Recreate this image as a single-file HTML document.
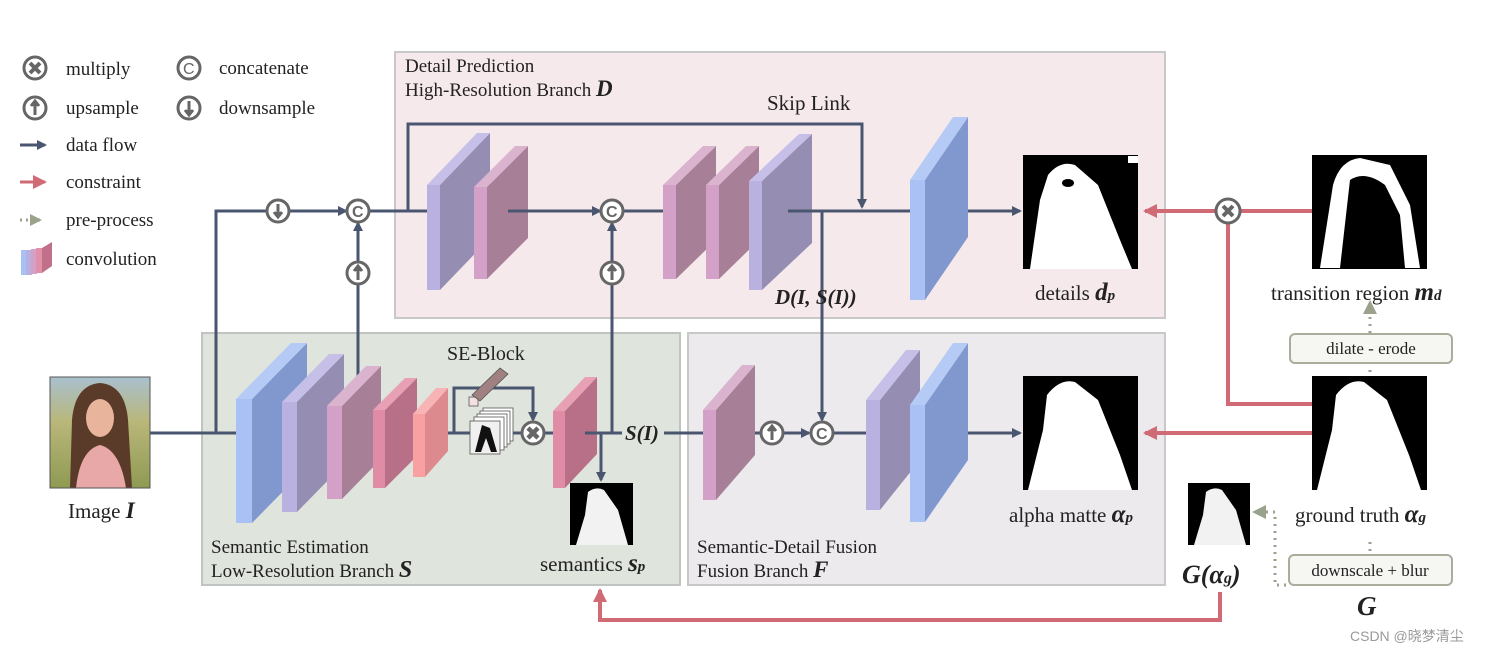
<!DOCTYPE html>
<html><head><meta charset="utf-8"><style>
html,body{margin:0;padding:0;background:#fff;}
svg{display:block;font-family:"Liberation Serif",serif;}
.t{fill:#222;}
.bi{font-weight:bold;font-style:italic;}
</style></head><body>
<svg width="1503" height="654" viewBox="0 0 1503 654" xmlns="http://www.w3.org/2000/svg">
<defs>
<marker id="ab" markerWidth="10" markerHeight="10" refX="8" refY="5" orient="auto" markerUnits="userSpaceOnUse"><path d="M0,0 L10,5 L0,10 z" fill="#4a5670"/></marker>
<marker id="ar" markerWidth="14" markerHeight="14" refX="12" refY="7" orient="auto" markerUnits="userSpaceOnUse"><path d="M0,0 L14,7 L0,14 z" fill="#d06a75"/></marker>
<marker id="ag" markerWidth="12" markerHeight="12" refX="10" refY="6" orient="auto" markerUnits="userSpaceOnUse"><path d="M0,0 L12,6 L0,12 z" fill="#9aa28c"/></marker>
<linearGradient id="bg1" x1="0" y1="0" x2="0" y2="1"><stop offset="0" stop-color="#a9c0cf"/><stop offset="0.4" stop-color="#b9b77a"/><stop offset="1" stop-color="#8f9a52"/></linearGradient>
</defs>

<rect x="395" y="52" width="770" height="266" fill="#f6e9eb" stroke="#c8c8c8" stroke-width="2"/>
<rect x="202" y="333" width="478" height="252" fill="#dfe4dd" stroke="#c0c4c0" stroke-width="2"/>
<rect x="688" y="333" width="477" height="252" fill="#edeaee" stroke="#c8c8c8" stroke-width="2"/>

<g stroke="#666" stroke-width="3" fill="#fff">
<circle cx="35" cy="68" r="11"/><circle cx="35" cy="108" r="11"/>
<circle cx="189" cy="68" r="11"/><circle cx="189" cy="108" r="11"/>
</g>
<path d="M30,63 L40,73 M40,63 L30,73" stroke="#666" stroke-width="4"/>
<path d="M35,115 L35,104 M31,106 L35,101 L39,106" stroke="#666" stroke-width="3" fill="#666"/>
<path d="M189,101 L189,112 M185,110 L189,115 L193,110" stroke="#666" stroke-width="3" fill="#666"/>
<text x="183" y="74" style="font-size:16px" fill="#666" font-family="Liberation Sans,sans-serif">C</text>
<line x1="20" y1="145" x2="45" y2="145" stroke="#4a5670" stroke-width="3" marker-end="url(#ab)"/>
<line x1="20" y1="182" x2="45" y2="182" stroke="#d06a75" stroke-width="3" marker-end="url(#ar)"/>
<line x1="20" y1="220" x2="40" y2="220" stroke="#9aa28c" stroke-width="3" stroke-dasharray="2,4" marker-end="url(#ag)"/>
<g><rect x="21" y="250" width="6" height="25" fill="#a8c0f4"/><rect x="26" y="250" width="6" height="25" fill="#b8b0de"/><rect x="31" y="249" width="6" height="25" fill="#d4a0c8"/><rect x="36" y="248" width="6" height="25" fill="#e090a8"/><polygon points="42,248 52,242 52,266 42,273" fill="#c07088"/></g>
<g class="t" style="font-size:19px">
<text x="66" y="75">multiply</text>
<text x="66" y="114">upsample</text>
<text x="66" y="151">data flow</text>
<text x="66" y="188">constraint</text>
<text x="66" y="226">pre-process</text>
<text x="66" y="265">convolution</text>
<text x="219" y="74">concatenate</text>
<text x="219" y="114">downsample</text>
</g>

<g stroke="#4a5670" stroke-width="3" fill="none">
<line x1="150" y1="433" x2="236" y2="433"/>
<polyline points="216,433 216,211 346,211" marker-end="url(#ab)"/>
<line x1="370" y1="211" x2="430" y2="211"/>
<polyline points="408,211 408,124 862,124 862,207" marker-end="url(#ab)"/>
<line x1="510" y1="211" x2="600" y2="211" marker-end="url(#ab)"/>
<line x1="624" y1="211" x2="663" y2="211"/>
<line x1="788" y1="211" x2="912" y2="211"/>
<line x1="955" y1="211" x2="1020" y2="211" marker-end="url(#ab)"/>
<line x1="822" y1="211" x2="822" y2="420" marker-end="url(#ab)"/>
<line x1="358" y1="380" x2="358" y2="223" marker-end="url(#ab)"/>
<line x1="612" y1="433" x2="612" y2="223" marker-end="url(#ab)"/>
<line x1="436" y1="433" x2="521" y2="433"/>
<polyline points="454,433 454,388 533,388 533,420" marker-end="url(#ab)"/>
<line x1="545" y1="433" x2="555" y2="433"/>
<line x1="585" y1="433" x2="622" y2="433"/>
<line x1="601" y1="433" x2="601" y2="480" marker-end="url(#ab)"/>
<line x1="664" y1="433" x2="705" y2="433"/>
<line x1="735" y1="433" x2="761" y2="433"/>
<line x1="784" y1="433" x2="809" y2="433" marker-end="url(#ab)"/>
<line x1="834" y1="433" x2="868" y2="433"/>
<line x1="955" y1="433" x2="1020" y2="433" marker-end="url(#ab)"/>
</g>

<g>
<polygon points="440,185 490,133 490,238 440,290" fill="#958db2"/><rect x="427" y="185" width="13" height="105" fill="#b9b1df"/><polygon points="427,185 440,185 490,133 477,133" fill="#c6bfe8"/>
<polygon points="487,187 528,146 528,238 487,279" fill="#a78098"/><rect x="474" y="187" width="13" height="92" fill="#d3a1c7"/><polygon points="474,187 487,187 528,146 515,146" fill="#dab3cf"/>
<polygon points="676,185 716,146 716,240 676,279" fill="#a78098"/><rect x="663" y="185" width="13" height="94" fill="#d3a1c7"/><polygon points="663,185 676,185 716,146 703,146" fill="#dab3cf"/>
<polygon points="719,185 759,146 759,240 719,279" fill="#a78098"/><rect x="706" y="185" width="13" height="94" fill="#d3a1c7"/><polygon points="706,185 719,185 759,146 746,146" fill="#dab3cf"/>
<polygon points="762,181 812,134 812,243 762,290" fill="#958db2"/><rect x="749" y="181" width="13" height="109" fill="#b9b1df"/><polygon points="749,181 762,181 812,134 799,134" fill="#c6bfe8"/>
<polygon points="925,180 968,117 968,237 925,300" fill="#8198cf"/><rect x="910" y="180" width="15" height="120" fill="#a9c1f5"/><polygon points="910,180 925,180 968,117 953,117" fill="#b5caf5"/>
<polygon points="252,399 307,343 307,467 252,523" fill="#8198cf"/><rect x="236" y="399" width="16" height="124" fill="#a9c1f5"/><polygon points="236,399 252,399 307,343 291,343" fill="#b5caf5"/>
<polygon points="297,402 344,354 344,464 297,512" fill="#958db2"/><rect x="282" y="402" width="15" height="110" fill="#b9b1df"/><polygon points="282,402 297,402 344,354 329,354" fill="#c6bfe8"/>
<polygon points="342,406 381,366 381,459 342,499" fill="#a78098"/><rect x="327" y="406" width="15" height="93" fill="#d3a1c7"/><polygon points="327,406 342,406 381,366 366,366" fill="#dab3cf"/>
<polygon points="385,410 417,378 417,456 385,488" fill="#b87088"/><rect x="373" y="410" width="12" height="78" fill="#e08ca6"/><polygon points="373,410 385,410 417,378 405,378" fill="#e8a0b4"/>
<polygon points="425,414 448,388 448,451 425,477" fill="#dc8a8e"/><rect x="413" y="414" width="12" height="63" fill="#f8a0a2"/><polygon points="413,414 425,414 448,388 436,388" fill="#f8b4b4"/>
<polygon points="565,411 597,377 597,454 565,488" fill="#b87088"/><rect x="553" y="411" width="12" height="77" fill="#e08ca6"/><polygon points="553,411 565,411 597,377 585,377" fill="#e8a0b4"/>
<polygon points="716,410 755,365 755,455 716,500" fill="#a78098"/><rect x="703" y="410" width="13" height="90" fill="#d3a1c7"/><polygon points="703,410 716,410 755,365 742,365" fill="#dab3cf"/>
<polygon points="880,400 920,350 920,460 880,510" fill="#958db2"/><rect x="866" y="400" width="14" height="110" fill="#b9b1df"/><polygon points="866,400 880,400 920,350 906,350" fill="#c6bfe8"/>
<polygon points="925,405 968,343 968,460 925,522" fill="#8198cf"/><rect x="910" y="405" width="15" height="117" fill="#a9c1f5"/><polygon points="910,405 925,405 968,343 953,343" fill="#b5caf5"/>
</g>
<g stroke="#4a5670" stroke-width="3">
<line x1="508" y1="211" x2="530" y2="211"/><line x1="788" y1="211" x2="812" y2="211"/>
<line x1="585" y1="433" x2="597" y2="433"/>
</g>

<g stroke="#555" stroke-width="0.8">
<rect x="469" y="397" width="9" height="9" fill="#f4e0e2"/>
<polygon points="472,395 500,368 508,374 480,401" fill="#a08080"/>
<rect x="483" y="408" width="30" height="33" fill="#fff"/><rect x="480" y="411" width="30" height="33" fill="#fff"/>
<rect x="477" y="414" width="30" height="33" fill="#fff"/><rect x="474" y="417" width="30" height="33" fill="#fff"/>
<rect x="470" y="421" width="30" height="33" fill="#f0f0f0"/>
</g>
<path d="M475,452 L482,425 L490,428 L497,452 L491,452 L486,438 L481,452 z" fill="#111"/>
<text class="t" x="447" y="360" style="font-size:20px">SE-Block</text>

<g stroke="#666" stroke-width="3" fill="#fff">
<circle cx="278" cy="211" r="11"/><circle cx="358" cy="211" r="11"/><circle cx="358" cy="273" r="11"/>
<circle cx="612" cy="211" r="11"/><circle cx="612" cy="273" r="11"/><circle cx="533" cy="433" r="11"/>
<circle cx="772" cy="433" r="11"/><circle cx="822" cy="433" r="11"/>
</g>
<g stroke="#666" stroke-width="3" fill="#666">
<path d="M278,204 L278,214 M274,212 L278,217 L282,212"/>
<path d="M358,280 L358,269 M354,271 L358,266 L362,271"/>
<path d="M612,280 L612,269 M608,271 L612,266 L616,271"/>
<path d="M772,440 L772,429 M768,431 L772,426 L776,431"/>
<path d="M528,428 L538,438 M538,428 L528,438" stroke-width="4.5"/>
</g>
<g font-family="Liberation Sans,sans-serif" style="font-size:16px;font-weight:bold" fill="#666"><text x="352" y="217">C</text><text x="606" y="217">C</text><text x="816" y="439">C</text></g>

<g stroke="#d06a75" stroke-width="4" fill="none">
<line x1="1312" y1="211" x2="1240" y2="211"/>
<line x1="1216" y1="211" x2="1145" y2="211" marker-end="url(#ar)"/>
<polyline points="1228,223 1228,404 1312,404"/>
<line x1="1312" y1="433" x2="1145" y2="433" marker-end="url(#ar)"/>
<polyline points="1220,592 1220,620 600,620 600,590" marker-end="url(#ar)"/>
</g>
<circle cx="1228" cy="211" r="12" stroke="#666" stroke-width="3" fill="#fff"/>
<path d="M1223,206 L1233,216 M1233,206 L1223,216" stroke="#666" stroke-width="4"/>

<g stroke="#9aa28c" stroke-width="3" fill="none" stroke-dasharray="2,5">
<line x1="1370" y1="372" x2="1370" y2="365"/>
<line x1="1370" y1="333" x2="1370" y2="312"/>
<line x1="1370" y1="542" x2="1370" y2="555"/>
<polyline points="1286,585 1275,585 1275,512 1262,512"/>
</g>
<path d="M1252,512 L1266,505 L1266,519 z" fill="#9aa28c"/>
<path d="M1370,300 L1363,314 L1377,314 z" fill="#9aa28c"/>
<rect x="1290" y="334" width="162" height="29" rx="5" fill="#f6f6f2" stroke="#a9ad9c" stroke-width="2"/>
<rect x="1289" y="555" width="163" height="30" rx="5" fill="#f6f6f2" stroke="#a9ad9c" stroke-width="2"/>
<text class="t" x="1371" y="354" text-anchor="middle" style="font-size:17px">dilate - erode</text>
<text class="t" x="1370" y="576" text-anchor="middle" style="font-size:17px">downscale + blur</text>

<rect x="50" y="377" width="100" height="111" fill="url(#bg1)"/>
<path d="M70,488 L72,420 Q75,385 100,383 Q125,385 128,420 L132,488 z" fill="#5a3a28"/>
<ellipse cx="100" cy="418" rx="14" ry="19" fill="#e8b49c"/>
<path d="M76,488 Q80,450 100,445 Q120,450 126,488 z" fill="#e8a8a8"/>
<rect x="50" y="377" width="100" height="111" fill="none" stroke="#555" stroke-width="1"/>

<rect x="1023" y="155" width="115" height="114" fill="#000"/>
<path d="M1030,269 L1040,200 L1048,175 Q1060,160 1075,165 L1098,185 L1120,240 L1132,269 z" fill="#fff"/>
<ellipse cx="1068" cy="183" rx="6" ry="4" fill="#000"/>
<rect x="1128" y="156" width="10" height="7" fill="#fff"/>

<rect x="1023" y="376" width="115" height="114" fill="#000"/>
<path d="M1028,490 L1043,430 L1047,395 Q1060,378 1075,382 L1098,400 L1120,455 L1132,490 z" fill="#fff"/>

<rect x="1312" y="155" width="115" height="114" fill="#000"/>
<path d="M1320,268 L1333,185 Q1340,160 1360,158 L1390,165 L1410,205 L1420,268 L1405,268 L1400,215 L1385,185 Q1365,170 1350,180 L1340,268 z" fill="#fff"/>

<rect x="1312" y="376" width="115" height="114" fill="#000"/>
<path d="M1317,490 L1332,430 L1336,395 Q1349,378 1364,382 L1387,400 L1409,455 L1421,490 z" fill="#fff"/>

<rect x="570" y="483" width="63" height="62" fill="#000"/>
<path d="M576,545 L585,515 L588,492 Q596,486 604,490 L618,510 L628,545 z" fill="#fff" opacity="0.95"/>
<rect x="1188" y="483" width="62" height="62" fill="#000"/>
<path d="M1194,545 L1203,515 L1206,492 Q1214,486 1222,490 L1236,510 L1246,545 z" fill="#fff" opacity="0.95"/>

<g class="t">
<text x="405" y="72" style="font-size:19px">Detail Prediction</text>
<text x="405" y="96" style="font-size:19px">High-Resolution Branch <tspan class="bi" style="font-size:23px">D</tspan></text>
<text x="767" y="110" style="font-size:21px">Skip Link</text>
<text class="bi" x="775" y="304" style="font-size:21px">D(I, S(I))</text>
<text class="bi" x="625" y="440" style="font-size:21px">S(I)</text>
<text x="1035" y="300" style="font-size:21px">details <tspan class="bi" style="font-size:25px">d</tspan><tspan class="bi" style="font-size:15px">p</tspan></text>
<text x="1271" y="300" style="font-size:21px">transition region <tspan class="bi" style="font-size:25px">m</tspan><tspan class="bi" style="font-size:15px">d</tspan></text>
<text x="1009" y="522" style="font-size:21px">alpha matte <tspan class="bi" style="font-size:25px">α</tspan><tspan class="bi" style="font-size:15px">p</tspan></text>
<text x="1295" y="522" style="font-size:21px">ground truth <tspan class="bi" style="font-size:25px">α</tspan><tspan class="bi" style="font-size:15px">g</tspan></text>
<text class="bi" x="1182" y="583" style="font-size:26px">G(α<tspan style="font-size:16px">g</tspan>)</text>
<text class="bi" x="1357" y="615" style="font-size:27px">G</text>
<text x="68" y="518" style="font-size:21px">Image <tspan class="bi" style="font-size:23px">I</tspan></text>
<text x="211" y="553" style="font-size:19px">Semantic Estimation</text>
<text x="211" y="577" style="font-size:19px">Low-Resolution Branch <tspan class="bi" style="font-size:24px">S</tspan></text>
<text x="540" y="571" style="font-size:21px">semantics <tspan class="bi" style="font-size:25px">s</tspan><tspan class="bi" style="font-size:15px">p</tspan></text>
<text x="697" y="553" style="font-size:19px">Semantic-Detail Fusion</text>
<text x="697" y="577" style="font-size:19px">Fusion Branch <tspan class="bi" style="font-size:23px">F</tspan></text>
</g>
<text x="1350" y="641" style="font-size:14px" fill="#999" font-family="Liberation Sans,'Noto Sans CJK SC',sans-serif">CSDN @晓梦清尘</text>
</svg>
</body></html>
